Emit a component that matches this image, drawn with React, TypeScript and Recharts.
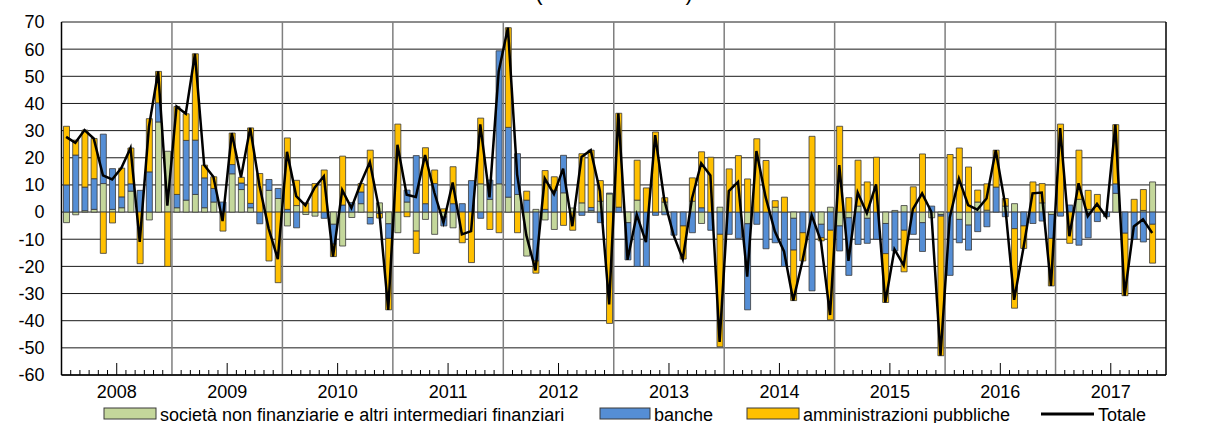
import React from 'react';
import {
  ComposedChart,
  Bar,
  Line,
  XAxis,
  YAxis,
  CartesianGrid,
  ReferenceLine,
} from 'recharts';

const years = ['2008', '2009', '2010', '2011', '2012', '2013', '2014', '2015', '2016', '2017'];

// monthly values, Jan 2008 - Nov 2017
const societa = [
  -3.9, -1, 0.5, 1, 10.5, 1, 1.6, 7.7, 0, -2.9, 33.2, 22.4,
  1.6, 4.4, 6.5, 1.6, 3.7, 0, 14.1, 8.3, 1.6, 0, 8, 5,
  -5.1, 2.4, -0.9, -1.5, 0, -4.5, -12.5, -2, 3.1, -2, 3.4, -4.3,
  -7.6, 3.7, -7, -2.7, -8.2, -1.8, -5.8, 0, 0, 10.4, 4.7, 10.4,
  5.5, 6.5, -16.2, 1, -2.9, -6.4, 7.1, 1.5, 3.4, 0.5, 4, 6.7,
  0, -3.9, 4.4, 0, 0, 3.7, 0, 0, 4, -4.2, 0, 1.8,
  0, 0, -4.3, 0, 0, 1.8, 0, -2.3, 0, 0, -4.5, 1.8,
  -5.1, -2.1, 2.2, -2.3, 0, -4.2, 0.6, 2.4, 0, -3.9, -2.1, -0.9,
  0, -2.7, -4.8, 3.7, 0.7, 0, 2.2, 3.1, 0, 0, 3.4, -0.9,
  0, 0, 4.7, 1, 0, 0, 6.9, 0, 0, 0.6, 11.1,
];

const banche = [
  10, 21, 8.7, 11.3, 18.2, 15, 4, 2.7, 8, 14.8, 7, 0,
  4.9, 22, 20, 11, 5, 3.7, 3.4, 2.4, 1.6, -4.3, 4, 3.7,
  1, -5.8, 0, 0, -2.3, -7.3, 2.6, 3.5, 4.3, -2.4, -0.5, -5.4,
  0, 4.4, 20.8, 3.1, 10.5, -3.3, 3.1, 3.1, 11.6, -2.3, 7.1, 49,
  25.7, 15, 4.4, -18, 1, 8, 13.8, 0, -1.2, 1.2, -3.9, 0.3,
  1.8, -13.7, -20, -20, -1.2, -1, -8.5, -5.1, -7.6, 1.6, -6.7, -8.2,
  -8.2, -9.7, -31.7, -4.5, -13.5, -11.3, -20, -11.7, -7.6, -29, -4.9, -6.7,
  -9.2, -21.2, -11.9, -9.2, -10, -11.1, -14.3, -6.7, -8.2, -10.6, 2.2, -0.6,
  -23.3, -8.6, -9.2, -7.2, -5.4, 9.2, -1.7, -6.1, -5.1, -4.2, -3.3, -8.8,
  -1.5, 2.6, -12.2, -9.5, -3.5, -1.7, 3.5, -7.8, -10, -11, -4.5,
];

const amministrazioni = [
  21.6, 5.5, 21, 14.8, -15.2, -4, 10.6, 13.2, -19, 19.6, 11.6, -20,
  32.4, 9.8, 31.8, 4.7, 4.3, -7, 11.6, 2.1, 27.8, 14.2, -18, -26,
  26.3, 9.3, 3.4, 10.5, 15.5, -4.6, 18, 0, 3.1, 22.8, -1.7, -26.3,
  32.4, -1.7, -8.2, 20.6, 5, 1.2, 13.6, -11.3, -18.6, 24.2, -6.4, -7.6,
  36.7, -7.6, 3.3, -4.5, 14.3, 5, -4.9, -6.7, 18.1, 21.1, 7.6, -41,
  34.6, 0, 14.7, 8.9, 29.5, 1.6, 0, -12.2, 8.6, 20.6, 20.2, -41.4,
  15.9, 20.8, 12.2, 27, 19, 2.4, 5.5, -18.6, -10.4, 27.9, -1.2, -33,
  31.6, 5.3, 16.9, 11.1, 20.2, -18, 0, -15.3, 9.3, 21.4, 0, -51.4,
  21.2, 23.6, 16.6, 4.4, 9.7, 13.6, 2.8, -29.3, -8.3, 11.1, 7.1, -17.5,
  32.4, -11.5, 18.1, 7, 6.5, 0, 21.8, -23, 4.7, 7.7, -14.3,
];

const totale = [
  27.7, 25.5, 30.2, 27.1, 13.5, 12, 16.2, 23.6, -11, 31.5, 51.8, 2.4,
  38.9, 36.2, 58.3, 17.3, 13, -3.3, 29.1, 12.8, 31, 9.9, -6, -17.3,
  22.2, 5.9, 2.5, 9, 13.2, -16.4, 8.1, 1.5, 10.5, 18.4, 1.2, -36,
  24.8, 6.4, 5.6, 21, 7.3, -3.9, 10.9, -8.2, -7, 32.3, 5.4, 51.8,
  67.9, 13.9, -8.5, -21.5, 12.4, 6.6, 16, -5.2, 20.3, 22.8, 7.7, -34,
  36.4, -17.6, -0.9, -11.1, 28.3, 4.3, -8.5, -17.3, 5, 18, 13.5, -47.8,
  7.7, 11.1, -23.8, 22.5, 5.5, -7.1, -14.5, -32.6, -18, -1.1, -10.6, -37.9,
  17.3, -18, 7.2, -0.4, 10.2, -33.3, -13.7, -19.6, 1.1, 6.9, 0.1, -52.9,
  -2.1, 12.3, 2.6, 0.9, 5, 22.8, 3.3, -32.3, -13.4, 6.9, 7.2, -27.2,
  30.9, -8.9, 10.6, -1.5, 3, -1.7, 32.2, -30.8, -5.3, -2.7, -7.7,
];

const yTicks = [-60, -50, -40, -30, -20, -10, 0, 10, 20, 30, 40, 50, 60, 70];

const GREEN = '#C4D79B';
const BLUE = '#558ED5';
const YELLOW = '#FFC000';
const EDGE = '#3a3a3a';
const FONT = '"Liberation Sans", Arial, sans-serif';

// month index (centre of the month slot) is the x value
const data = totale.map((t, i) => ({
  x: i + 0.5,
  societa: societa[i],
  banche: banche[i],
  amministrazioni: amministrazioni[i],
  totale: t,
}));

const monthTicks = Array.from({ length: years.length * 12 + 1 }, (_, i) => i);
const yearBounds = years.slice(1).map((_, i) => (i + 1) * 12);

function MonthTick(props: any) {
  const { x, y, payload } = props;
  const v = payload.value;
  if (v % 12 === 0) return <g />;
  const mid = v % 12 === 6;
  return (
    <g>
      <line x1={x} x2={x} y1={y} y2={y - (mid ? 12 : 5)} stroke="#000" strokeWidth={1} />
      {mid && (
        <text x={x} y={y + 23} textAnchor="middle" fontSize={18} fontFamily={FONT} fill="#000">
          {years[(v - 6) / 12]}
        </text>
      )}
    </g>
  );
}

function LegendRow() {
  const t = { fontSize: 18, fontFamily: FONT, fill: '#000' };
  return (
    <svg width={1215} height={423} style={{ position: 'absolute', left: 0, top: 0, pointerEvents: 'none' }}>
      <text x={614} y={-0.5} textAnchor="middle" fontSize={22} fontFamily={FONT}>
        (miliardi di euro)
      </text>
      <rect x={104} y={408} width={52} height={11} fill={GREEN} stroke={EDGE} />
      <text x={160} y={421} {...t}>società non finanziarie e altri intermediari finanziari</text>
      <rect x={600} y={408} width={50} height={11} fill={BLUE} stroke={EDGE} />
      <text x={654} y={421} {...t}>banche</text>
      <rect x={747} y={408} width={52} height={11} fill={YELLOW} stroke={EDGE} />
      <text x={803} y={421} {...t}>amministrazioni pubbliche</text>
      <line x1={1041} x2={1094} y1={414} y2={414} stroke="#000" strokeWidth={3} />
      <text x={1098} y={421} {...t}>Totale</text>
    </svg>
  );
}

export default function App() {
  const tickStyle = { fontSize: 18, fontFamily: FONT, fill: '#000' };
  return (
    <div style={{ position: 'absolute', left: 0, top: 0, width: 1215, height: 423, background: '#fff' }}>
      <ComposedChart
        width={1215}
        height={423}
        data={data}
        stackOffset="sign"
        margin={{ top: 22, right: 0, bottom: 0, left: 0 }}
      >
        <CartesianGrid vertical={false} stroke="#1a1a1a" strokeWidth={1} />
        {yearBounds.map((b) => (
          <ReferenceLine key={b} x={b} stroke="#7f7f7f" strokeWidth={1.5} />
        ))}
        <XAxis
          dataKey="x"
          type="number"
          domain={[0, years.length * 12]}
          ticks={monthTicks}
          interval={0}
          tickSize={0}
          tickMargin={0}
          tick={<MonthTick />}
          height={48}
          axisLine={{ stroke: '#000', strokeWidth: 1.5 }}
          tickLine={false}
        />
        <YAxis
          domain={[-60, 70]}
          ticks={yTicks}
          interval={0}
          width={61.5}
          tick={tickStyle}
          tickLine={false}
          tickMargin={11}
          axisLine={{ stroke: '#000', strokeWidth: 1.5 }}
        />
        <YAxis
          yAxisId="right"
          orientation="right"
          domain={[-60, 70]}
          ticks={yTicks}
          interval={0}
          width={49}
          tick={tickStyle}
          tickLine={false}
          tickMargin={11}
          axisLine={{ stroke: '#000', strokeWidth: 1.5 }}
        />
        <Bar dataKey="societa" stackId="a" fill={GREEN} stroke={EDGE} strokeWidth={0.8} barSize={6} isAnimationActive={false} />
        <Bar dataKey="banche" stackId="a" fill={BLUE} stroke={EDGE} strokeWidth={0.8} barSize={6} isAnimationActive={false} />
        <Bar dataKey="amministrazioni" stackId="a" fill={YELLOW} stroke={EDGE} strokeWidth={0.8} barSize={6} isAnimationActive={false} />
        <Line
          type="linear"
          dataKey="totale"
          stroke="#000"
          strokeWidth={2.5}
          dot={false}
          activeDot={false}
          isAnimationActive={false}
        />
      </ComposedChart>
      <LegendRow />
    </div>
  );
}
